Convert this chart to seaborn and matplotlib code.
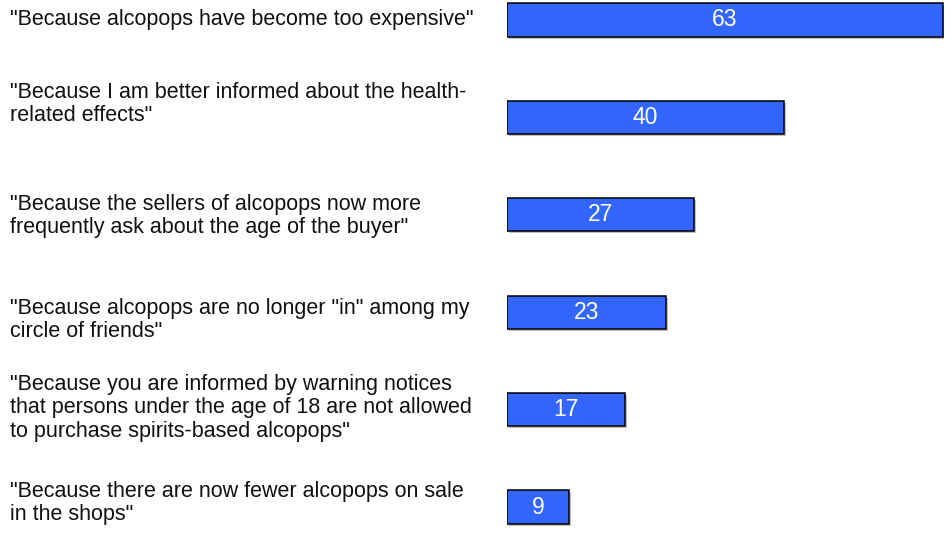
import matplotlib
matplotlib.use("Agg")
import matplotlib.pyplot as plt
import matplotlib.patheffects as pe
import seaborn as sns
import pandas as pd

reasons = [
    '"Because alcopops have become too expensive"',
    '"Because I am better informed about the health-\nrelated effects"',
    '"Because the sellers of alcopops now more\nfrequently ask about the age of the buyer"',
    '"Because alcopops are no longer "in" among my\ncircle of friends"',
    '"Because you are informed by warning notices\nthat persons under the age of 18 are not allowed\nto purchase spirits-based alcopops"',
    '"Because there are now fewer alcopops on sale\nin the shops"',
]
shares = [63, 40, 27, 23, 17, 9]

df = pd.DataFrame({"reason": reasons, "share": shares})

sns.set_theme(style="white")
plt.rcParams["font.family"] = ["Liberation Sans", "DejaVu Sans"]

W, H = 946, 536
fig = plt.figure(figsize=(W / 100, H / 100), dpi=100)
ax = fig.add_axes([507 / W, 0, (944 - 507) / W, 1])

sns.barplot(data=df, x="share", y="reason", orient="h", color="#3366FF",
            saturation=1, width=0.34, edgecolor="black", linewidth=1.1, ax=ax)

for bar in ax.patches:
    bar.set_path_effects([
        pe.SimplePatchShadow(offset=(1.5, -1.5), shadow_rgbFace="#999999", alpha=0.6),
        pe.Normal(),
    ])

ax.set_xlim(0, 63.2)
ax.set_ylim(5 + 29 / 97.4, -20 / 97.4)
ax.axis("off")

for i, v in enumerate(shares):
    ax.text(v / 2, i, str(v), color="white", ha="center", va="center", fontsize=16.5)

# left-hand statement labels (pixel y of each block centre)
label_y = [20, 104, 216, 320, 408, 503]
for txt, py in zip(reasons, label_y):
    fig.text(10 / W, 1 - py / H, txt, ha="left", va="center", fontsize=15.5,
             color="#111111", linespacing=1.16)

fig.savefig("out.png", dpi=100)
